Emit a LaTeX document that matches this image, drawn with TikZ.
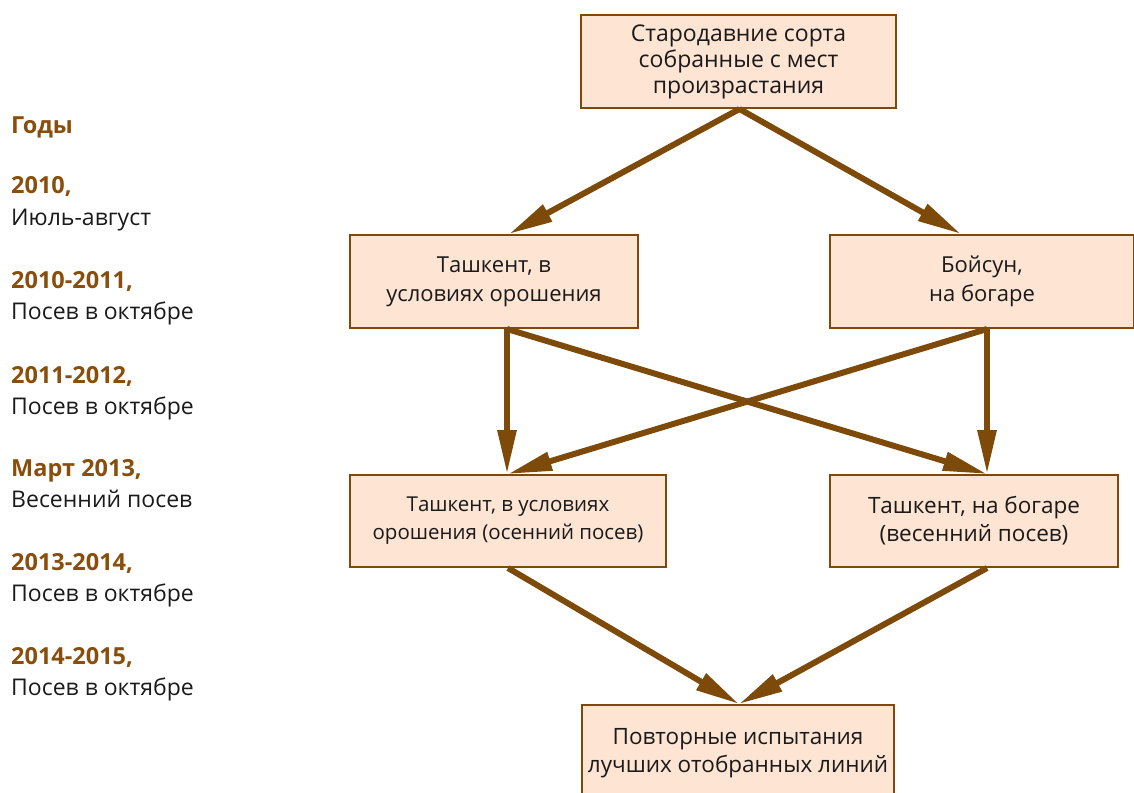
\documentclass[tikz,border=0pt]{standalone}
\usepackage{fontspec}
\setmainfont{Open Sans}
\usetikzlibrary{arrows.meta,calc}
\definecolor{brn}{HTML}{7E4A0A}
\definecolor{yr}{HTML}{8A4E0C}
\definecolor{boxfill}{HTML}{FDE4D3}
\definecolor{txt}{HTML}{1A1A1A}
\tikzset{
  box/.style={draw=brn, line width=2pt, fill=boxfill, inner sep=0pt, align=center,
    text=txt, font=\fontsize{22}{28}\selectfont, anchor=north west},
  arr/.style={draw=brn, line width=6pt, -{Triangle[length=44pt,width=18pt]}},
  yrlab/.style={anchor=west, inner sep=0pt, text height=17.5pt, text depth=5.5pt, text=yr, font=\fontsize{23.5}{26}\selectfont\bfseries},
  desc/.style={anchor=west, inner sep=0pt, text height=17.5pt, text depth=5.5pt, text=txt, font=\fontsize{23}{26}\selectfont}
}
\begin{document}
\begin{tikzpicture}[x=1pt,y=-1pt]
\useasboundingbox (0,0) rectangle (1134,792);
\clip (0,0) rectangle (1134,792);
% boxes
\node[box, minimum width=315pt, minimum height=93pt, font=\fontsize{23}{26}\selectfont] (top) at (580,14) {Стародавние сорта\\собранные с мест\\произрастания};
\node[box, minimum width=288pt, minimum height=93pt, font=\fontsize{22}{29}\selectfont] (l1) at (349,234) {Ташкент, в\\условиях орошения};
\node[box, minimum width=304pt, minimum height=93pt, font=\fontsize{22}{29}\selectfont] (r1) at (829,234) {Бойсун,\\на богаре};
\node[box, minimum width=316pt, minimum height=92pt, font=\fontsize{20.5}{28}\selectfont] (l2) at (349,474) {Ташкент, в условиях\\орошения (осенний посев)};
\node[box, minimum width=288pt, minimum height=92pt, font=\fontsize{22.5}{28}\selectfont] (r2) at (829,474) {Ташкент, на богаре\\(весенний посев)};
\node[box, minimum width=312pt, minimum height=96pt, font=\fontsize{22.5}{28}\selectfont] (bot) at (581,704) {Повторные испытания\\лучших отобранных линий};
% arrows
\draw[arr] ([xshift=1pt]top.south) -- ([xshift=15pt]l1.north);
\draw[arr] ([xshift=1pt]top.south) -- ([xshift=-21pt]r1.north);
\draw[arr] ([xshift=13pt]l1.south) -- ([xshift=13pt]l1.south |- l2.north);
\draw[arr] ([xshift=13pt]l1.south) -- ([xshift=13pt]r2.north);
\draw[arr] ([xshift=5pt]r1.south) -- ([xshift=0pt]l2.north);
\draw[arr] ([xshift=5pt]r1.south) -- ([xshift=5pt]r1.south |- r2.north);
\draw[arr] ([xshift=0pt]l2.south) -- ([xshift=1pt]bot.north);
\draw[arr] ([xshift=13pt]r2.south) -- ([xshift=1pt]bot.north);
% years
\node[yrlab] (g) at (11,127) {Годы};
\node[yrlab] (y1) at (11,187) {2010,};
\node[desc] (d1) at (11,219) {Июль-август};
\node[yrlab] (y2) at (11,282) {2010-2011,};
\node[desc] (d2) at (11,313) {Посев в октябре};
\node[yrlab] (y3) at (11,377) {2011-2012,};
\node[desc] (d3) at (11,408) {Посев в октябре};
\node[yrlab] (y4) at (11,470) {Март 2013,};
\node[desc] (d4) at (11,501) {Весенний посев};
\node[yrlab] (y5) at (11,564) {2013-2014,};
\node[desc] (d5) at (11,595) {Посев в октябре};
\node[yrlab] (y6) at (11,658) {2014-2015,};
\node[desc] (d6) at (11,689) {Посев в октябре};
\end{tikzpicture}
\end{document}
